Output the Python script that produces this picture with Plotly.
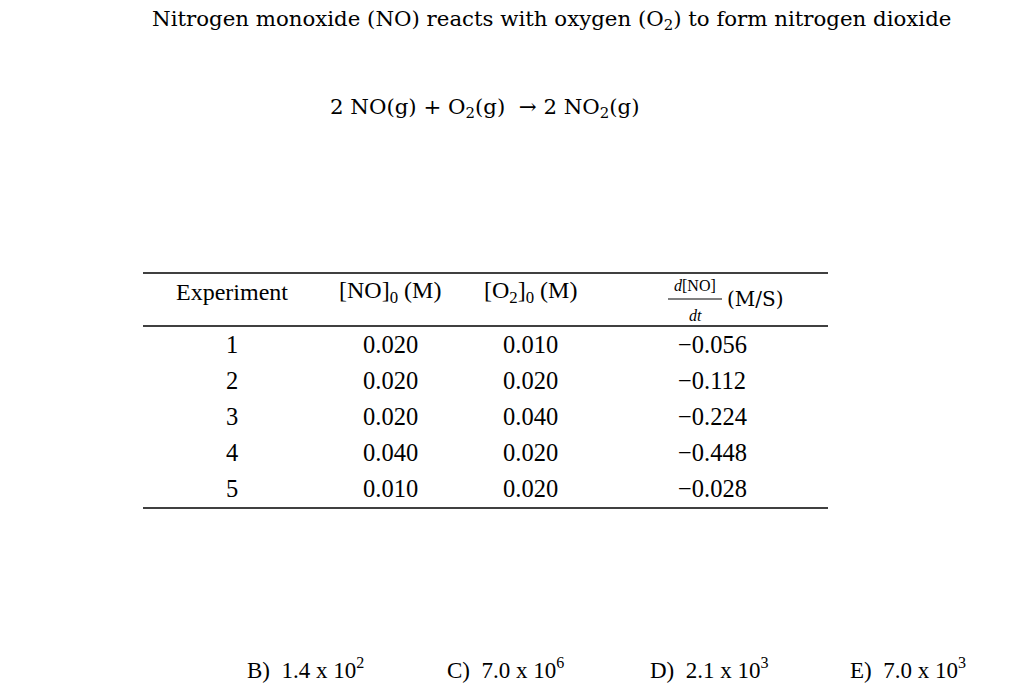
import plotly.graph_objects as go

experiments = ["1", "2", "3", "4", "5"]
no_conc = ["0.020", "0.020", "0.020", "0.040", "0.010"]
o2_conc = ["0.010", "0.020", "0.040", "0.020", "0.020"]
rates = ["\u22120.056", "\u22120.112", "\u22120.224", "\u22120.448", "\u22120.028"]
choices = ["A)  1.4 x 10<sup>4</sup>", "B)  1.4 x 10<sup>2</sup>", "C)  7.0 x 10<sup>6</sup>",
           "D)  2.1 x 10<sup>3</sup>", "E)  7.0 x 10<sup>3</sup>"]

BODY = "DejaVu Serif"
TAB = "Liberation Serif"
fig = go.Figure()


def txt(x, y, s, size=21, font=BODY, anchor="left"):
    fig.add_annotation(x=x, y=y, text=s, showarrow=False, xanchor=anchor, yanchor="middle",
                       font=dict(family=font, size=size, color="black"))


# paragraph text
txt(150, 20, "Nitrogen monoxide (NO) reacts with oxygen (O<sub>2</sub>) to form nitrogen dioxide", 21.3)
txt(5, 57, "(NO<sub>2</sub>):", 21.3)
txt(485, 108, "2 NO(g) + O<sub>2</sub>(g)  \u2192 2 NO<sub>2</sub>(g)", 21.3, anchor="center")
txt(5, 163, "Initial rates for the reaction of nitrogen monoxide (NO) and oxygen (O<sub>2</sub>) were measured", 22.3)
txt(5, 200, "at 25 \u00b0C starting with various concentrations of NO and O<sub>2</sub>.  The following data were", 22.3)
txt(5, 237, "collected:", 22.3)

# table header
txt(232, 292, "Experiment", 24, TAB, "center")
txt(390, 292, "[NO]<sub>0</sub> (M)", 24, TAB, "center")
txt(530, 292, "[O<sub>2</sub>]<sub>0</sub> (M)", 24, TAB, "center")
txt(695, 285, "<i>d</i>[NO]", 16, TAB, "center")
txt(695, 315, "<i>dt</i>", 16, TAB, "center")
txt(755, 299, "(M/S)", 20, BODY, "center")
fig.add_shape(type="line", x0=668, x1=722, y0=299, y1=299, line=dict(color="black", width=1))

# table rows
for i in range(len(experiments)):
    y = 344 + i * 36
    txt(232, y, experiments[i], 24.5, TAB, "center")
    txt(390, y, no_conc[i], 24.5, TAB, "center")
    txt(530, y, o2_conc[i], 24.5, TAB, "center")
    txt(712, y, rates[i], 24.5, TAB, "center")

for y in (273, 326, 508):
    fig.add_shape(type="line", x0=143, x1=828, y0=y, y1=y, line=dict(color="black", width=1.3))

txt(5, 580, "What is the numerical value of the rate constant for this reaction based on the", 22.3)
txt(5, 616, "experimental data?", 22.3)

for x, c in zip([5, 245, 445, 648, 848], choices):
    txt(x, 668, c, 23, TAB)

fig.update_layout(width=1024, height=699, margin=dict(l=0, r=0, t=0, b=0),
                  plot_bgcolor="white", paper_bgcolor="white", showlegend=False)
fig.update_xaxes(range=[8, 1032], visible=False)
fig.update_yaxes(range=[707, 8], visible=False)
fig.write_html("out.html")
